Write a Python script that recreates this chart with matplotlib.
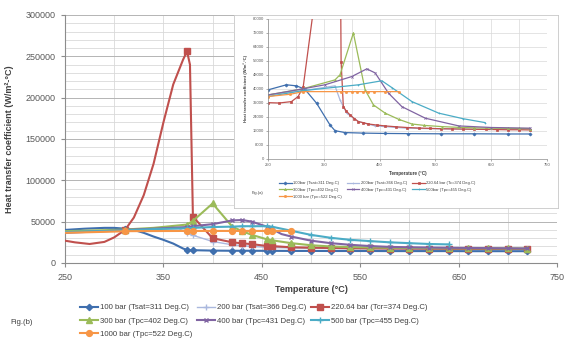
import matplotlib.pyplot as plt
import numpy as np
from matplotlib.ticker import MultipleLocator

plt.rcParams['font.family'] = ['Liberation Sans', 'DejaVu Sans']

# ---- Fig.(b): heat transfer coefficient vs temperature ----
t_100 = [250, 270, 290, 300, 311, 320, 330, 340, 350, 360, 370, 374, 380, 400, 420, 430, 440, 455, 460, 480,
         500, 520, 540, 560, 580, 600, 620, 640, 660, 680, 700, 720]
h_100 = [40000, 41500, 42500, 42500, 41500, 40000, 36500, 32000, 28000, 23500, 17500, 15700, 15500, 15000, 14800,
         14800, 14800, 14700, 14700, 14600, 14600, 14500, 14500, 14500, 14400, 14400, 14400, 14400, 14300, 14300,
         14300, 14300]

t_200 = [250, 300, 311, 340, 366, 374, 380, 400, 420, 430, 440, 455, 460, 480,
         500, 520, 540, 560, 580, 600, 620, 640, 660, 680, 700, 720]
h_200 = [38000, 39500, 40000, 41000, 41500, 36000, 33500, 26000, 22000, 21000, 20000, 19000, 18800, 18200,
         17800, 17500, 17300, 17100, 17000, 16900, 16800, 16700, 16600, 16600, 16500, 16500]

t_220 = [250, 260, 275, 290, 300, 311, 320, 330, 340, 350, 360, 370, 374, 377, 380, 400, 420, 430, 440, 455,
         460, 480, 500, 520, 540, 560, 580, 600, 620, 640, 660, 680, 700, 720]
h_220 = [27000, 25000, 23000, 25500, 31000, 40000, 55000, 82000, 120000, 170000, 216000, 246000, 256000, 240000,
         56000, 30000, 25000, 23800, 22800, 20600, 20500, 19000, 18500, 18200, 17900, 17700, 17500, 17400, 17300,
         17200, 17100, 17000, 17000, 17000]

t_300 = [250, 300, 311, 340, 374, 380, 400, 420, 430, 440, 455, 460, 480,
         500, 520, 540, 560, 580, 600, 620, 640, 660, 680, 700, 720]
h_300 = [38500, 40000, 40500, 42500, 46500, 51000, 72000, 44000, 38500, 34000, 28700, 27500, 24000,
         21500, 20000, 19300, 18800, 18400, 18200, 18000, 17900, 17800, 17700, 17600, 17500]

t_400 = [250, 300, 311, 340, 374, 380, 400, 420, 430, 440, 455, 460, 470, 480,
         500, 520, 540, 560, 580, 600, 620, 640, 660, 680, 700, 720]
h_400 = [36500, 39000, 40000, 41500, 43500, 44500, 47000, 51500, 52000, 50000, 44000, 41500, 35000, 32000,
         27000, 24000, 22000, 20500, 19500, 19000, 18700, 18400, 18200, 18000, 17800, 17600]

t_500 = [250, 300, 311, 340, 374, 380, 400, 420, 430, 440, 455, 460, 480,
         500, 520, 540, 560, 580, 600, 620, 640]
h_500 = [37500, 39000, 39500, 41000, 42000, 42500, 43500, 44000, 44500, 44500, 44500, 44000, 39000,
         34000, 30500, 28000, 26500, 25000, 24000, 23000, 22500]

t_1000 = [250, 300, 311, 374, 380, 400, 420, 430, 440, 455, 460, 480]
h_1000 = [36500, 38000, 38500, 38800, 38800, 38800, 38800, 38800, 38800, 38800, 38800, 38800]

# temperatures where the spreadsheet points carry markers
mark_t = [311, 374, 380, 400, 420, 430, 440, 455, 460, 480, 500, 520, 540, 560, 580, 600, 620, 640, 660,
          680, 700, 720]

labels_b = ['100 bar (Tsat=311 Deg.C)', '200 bar (Tsat=366 Deg.C)', '220.64 bar (Tcr=374 Deg.C)',
            '300 bar (Tpc=402 Deg.C)', '400 bar (Tpc=431 Deg.C)', '500 bar (Tpc=455 Deg.C)',
            '1000 bar (Tpc=522 Deg.C)']

# ---- Fig.(a): smaller chart ----
ta_100 = [250, 283, 301, 316, 337, 361, 370, 388, 420, 460, 500, 560, 620, 680, 720]
ha_100 = [39500, 42400, 41800, 39900, 31900, 19500, 16200, 15100, 14800, 14600, 14500, 14400, 14400, 14300, 14300]

ta_200 = [250, 311, 370, 379, 391, 412, 442, 499, 560, 620, 680, 720]
ha_200 = [36600, 39000, 41800, 33800, 26200, 21400, 18900, 17600, 17200, 17000, 17000, 17000]

ta_220 = [250, 270, 292, 304, 313, 330, 340, 350, 360, 370, 374, 377, 381, 385, 390, 397, 405, 412, 420, 430,
          445, 460, 480, 499, 520, 540, 560, 580, 600, 620, 640, 660, 680, 700, 720]
ha_220 = [32200, 32000, 32800, 35700, 41000, 82000, 120000, 170000, 215000, 245000, 256000, 240000, 55700,
          30000, 27500, 25200, 23000, 21400, 20800, 20000, 19400, 18900, 18400, 18000, 17700, 17500, 17300,
          17200, 17100, 17000, 16900, 16800, 16700, 16700, 16600]

ta_300 = [250, 311, 370, 379, 403, 424, 439, 460, 484, 508, 530, 562, 590, 620, 650, 680, 700, 720]
ha_300 = [36600, 40000, 45200, 48100, 72000, 39500, 30900, 26200, 22700, 20000, 19200, 18500, 18100, 17800,
          17600, 17500, 17450, 17400]

ta_400 = [250, 311, 352, 400, 427, 442, 466, 490, 532, 592, 650, 720]
ha_400 = [36600, 40000, 42400, 47100, 51500, 49200, 37600, 29900, 23300, 18900, 18000, 17600]

ta_500 = [250, 311, 412, 454, 472, 508, 556, 600, 639]
ha_500 = [35700, 39000, 42400, 44700, 40800, 32800, 26200, 23000, 20800]

ta_1000 = [250, 290, 313, 380, 390, 400, 410, 420, 430, 440, 460, 484]
ha_1000 = [35700, 37000, 38500, 38500, 38500, 38500, 38500, 38500, 38500, 38500, 38500, 38500]

labels_a = ['100bar (Tsat=311 Deg.C)', '200bar (Tsat=366 Deg.C)', '220.64 bar (Tc=374 Deg.C)',
            '300bar (Tpc=402 Deg.C)', '400bar (Tpc=431 Deg.C)', '500bar (Tpc=455 Deg.C)',
            '1000 bar (Tpc=522 Deg.C)']

colors = ['#3f6fae', '#aab8de', '#c0504d', '#9bbb59', '#8064a2', '#4bacc6', '#f79646']
markers = ['D', '+', 's', '^', 'x', '+', 'o']
msizes = [3.2, 4.5, 4.5, 4.5, 3.5, 4.5, 4.2]

GRID = '#d9d9d9'
AXIS = '#8c8c8c'
TXT = '#404040'

fig = plt.figure(figsize=(5.71, 3.49), dpi=100)
ax = fig.add_axes([65 / 571, 1 - 263 / 349, 492 / 571, 248 / 349])

data_b = [(t_100, h_100), (t_200, h_200), (t_220, h_220), (t_300, h_300),
          (t_400, h_400), (t_500, h_500), (t_1000, h_1000)]
handles = []
for i, (t, h) in enumerate(data_b):
    every = [x in mark_t for x in t]
    ln, = ax.plot(t, h, color=colors[i], lw=1.5 if i != 1 else 1.0, marker=markers[i],
                  ms=msizes[i], mew=1.0, markevery=every, zorder=3)
    handles.append(ln)

ax.set_xlim(250, 750)
ax.set_ylim(0, 300000)
ax.set_xticks(np.arange(250, 751, 100))
ax.xaxis.set_minor_locator(MultipleLocator(50))
ax.yaxis.set_major_locator(MultipleLocator(50000))
ax.yaxis.set_minor_locator(MultipleLocator(10000))
ax.grid(which='major', axis='y', color='#b4b4b4', lw=0.7)
ax.grid(which='minor', axis='y', color=GRID, lw=0.6)
ax.grid(which='both', axis='x', color=GRID, lw=0.6)
ax.set_axisbelow(True)
for side in ['top', 'right']:
    ax.spines[side].set_visible(False)
for side in ['left', 'bottom']:
    ax.spines[side].set_color(AXIS)
    ax.spines[side].set_linewidth(0.8)
ax.tick_params(which='major', length=3, color=AXIS, labelsize=6.5, labelcolor='#595959', pad=4)
ax.tick_params(which='minor', length=0)
ax.set_xlabel('Temperature (°C)', fontsize=6.5, fontweight='bold', color=TXT, labelpad=2)
ax.set_ylabel('Heat transfer coefficient (W/m²-°C)', fontsize=6.5, fontweight='bold', color=TXT, labelpad=8)

order = [0, 3, 6, 1, 4, 2, 5]
leg = fig.legend([handles[k] for k in order], [labels_b[k] for k in order], ncol=3,
                 loc='upper left', bbox_to_anchor=(80 / 571, 1 - 304 / 349), frameon=False,
                 fontsize=5.6, handlelength=2.3, handletextpad=0.25, columnspacing=0.6,
                 labelspacing=0.75, borderaxespad=0, borderpad=0)
for txt in leg.get_texts():
    txt.set_color(TXT)
fig.text(10 / 571, 1 - 322 / 349, 'Fig.(b)', fontsize=5.6, color=TXT, va='center')

# ---- inset panel with Fig.(a) ----
box = fig.add_axes([234 / 571, 1 - 208 / 349, 324 / 571, 193 / 349])
box.set_zorder(5)
box.set_facecolor('white')
box.set_xticks([])
box.set_yticks([])
for s in box.spines.values():
    s.set_color('#c8c8c8')
    s.set_linewidth(0.6)

ins = fig.add_axes([268 / 571, 1 - 159 / 349, 279 / 571, 140 / 349])
ins.set_zorder(6)
data_a = [(ta_100, ha_100), (ta_200, ha_200), (ta_220, ha_220), (ta_300, ha_300),
          (ta_400, ha_400), (ta_500, ha_500), (ta_1000, ha_1000)]
ins_handles = []
for i, (t, h) in enumerate(data_a):
    ln, = ins.plot(t, h, color=colors[i], lw=0.9, marker=markers[i], ms=1.6, mew=0.5)
    ins_handles.append(ln)
ins.set_xlim(250, 750)
ins.set_ylim(0, 80000)
ins.set_xticks(np.arange(250, 751, 100))
ins.xaxis.set_minor_locator(MultipleLocator(50))
ins.set_yticks(np.arange(0, 80001, 8000))
ins.grid(which='both', color=GRID, lw=0.5)
ins.set_axisbelow(True)
for side in ['top', 'right']:
    ins.spines[side].set_visible(False)
for side in ['left', 'bottom']:
    ins.spines[side].set_color(AXIS)
    ins.spines[side].set_linewidth(0.5)
ins.tick_params(which='major', length=1.5, width=0.5, color=AXIS, labelsize=3, labelcolor='#595959', pad=1.5)
ins.tick_params(which='minor', length=0)
ins.set_xlabel('Temperature (°C)', fontsize=3.3, fontweight='bold', color=TXT, labelpad=3)
ins.set_ylabel('Heat transfer coefficient (W/m²-°C)', fontsize=3, fontweight='bold', color=TXT, labelpad=3)

leg_a = fig.legend([ins_handles[k] for k in order], [labels_a[k] for k in order], ncol=3,
                   loc='upper left', bbox_to_anchor=(279 / 571, 1 - 181 / 349), frameon=False,
                   fontsize=3, handlelength=3, handletextpad=0.4, columnspacing=1.2,
                   labelspacing=0.7, borderaxespad=0, borderpad=0)
leg_a.set_zorder(10)
for txt in leg_a.get_texts():
    txt.set_color(TXT)
fig.text(252 / 571, 1 - 193 / 349, 'Fig.(a)', fontsize=3, color=TXT, va='center', zorder=10)

fig.savefig('out.png', dpi=100, facecolor='white')
